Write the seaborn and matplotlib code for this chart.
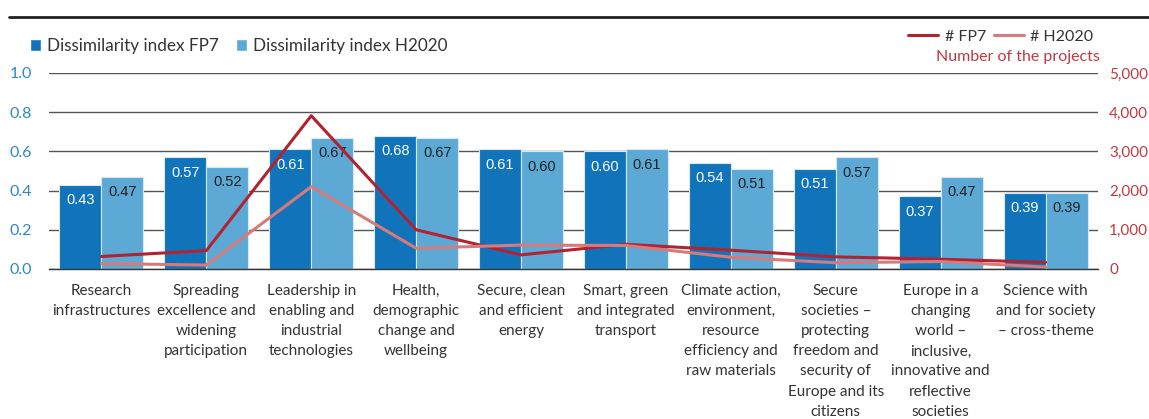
import numpy as np
import pandas as pd
import seaborn as sns
import matplotlib.pyplot as plt
from matplotlib.lines import Line2D
from matplotlib.patches import Patch
from matplotlib.ticker import FuncFormatter

# data
categories = [
    "Research\ninfrastructures",
    "Spreading\nexcellence and\nwidening\nparticipation",
    "Leadership in\nenabling and\nindustrial\ntechnologies",
    "Health,\ndemographic\nchange and\nwellbeing",
    "Secure, clean\nand efficient\nenergy",
    "Smart, green\nand integrated\ntransport",
    "Climate action,\nenvironment,\nresource\nefficiency and\nraw materials",
    "Secure\nsocieties –\nprotecting\nfreedom and\nsecurity of\nEurope and its\ncitizens",
    "Europe in a\nchanging\nworld –\ninclusive,\ninnovative and\nreflective\nsocieties",
    "Science with\nand for society\n– cross-theme",
]
fp7_index = [0.43, 0.57, 0.61, 0.68, 0.61, 0.60, 0.54, 0.51, 0.37, 0.39]
h2020_index = [0.47, 0.52, 0.67, 0.67, 0.60, 0.61, 0.51, 0.57, 0.47, 0.39]
fp7_projects = [320, 470, 3910, 1000, 360, 630, 480, 310, 250, 170]
h2020_projects = [140, 100, 2100, 530, 610, 600, 300, 160, 190, 50]

series = ["Dissimilarity index FP7", "Dissimilarity index H2020"]
bar_colors = ["#1174bb", "#5da9d5"]
line_colors = ["#b22230", "#d97a7a"]
label_colors = ["white", "#222222"]

sns.set_style("white")
plt.rcParams["font.family"] = ["Lato", "DejaVu Sans"]

df = pd.DataFrame({
    "category": categories * 2,
    "index": fp7_index + h2020_index,
    "programme": [series[0]] * len(categories) + [series[1]] * len(categories),
})

fig = plt.figure(figsize=(11.49, 4.19), dpi=100)
W, H = 1149, 419
ax = fig.add_axes([49 / W, 1 - 269 / H, (1098 - 49) / W, (269 - 73) / H])

ax.set_axisbelow(True)
ax.yaxis.grid(True, color="#555555", linewidth=1)
sns.barplot(data=df, x="category", y="index", hue="programme", palette=bar_colors,
            saturation=1, width=0.8, edgecolor="#d6e8f4", linewidth=0.8,
            legend=False, ax=ax)

for cont, col in zip(ax.containers, label_colors):
    ax.bar_label(cont, fmt="%.2f", padding=-16, color=col, fontsize=10.5,
                 family="Liberation Sans")

ax.set_ylim(0, 1.0)
ax.set_xlim(-0.5, len(categories) - 0.5)
ax.set_yticks(np.arange(0, 1.01, 0.2))
ax.yaxis.set_major_formatter(FuncFormatter(lambda v, p: f"{v:.1f}"))
ax.set_xlabel("")
ax.set_ylabel("")
ax.tick_params(axis="y", length=0, pad=12, labelsize=11.5, labelcolor="#2b88c8")
ax.tick_params(axis="x", which="major", length=0, pad=11, labelsize=11,
               labelcolor="#333333")
ax.set_xticks(np.arange(-0.5, len(categories), 1), minor=True)
ax.tick_params(axis="x", which="minor", length=6, width=1, color="#333333")
for lab in ax.get_xticklabels():
    lab.set_linespacing(1.55)
    lab.set_va("top")
for s in ["top", "right", "left"]:
    ax.spines[s].set_visible(False)
ax.spines["bottom"].set_color("#333333")
ax.spines["bottom"].set_linewidth(1)

# project counts on the right axis
ax2 = ax.twinx()
xpos = np.arange(len(categories))
sns.lineplot(x=xpos, y=fp7_projects, color=line_colors[0], linewidth=2.2, ax=ax2)
sns.lineplot(x=xpos, y=h2020_projects, color=line_colors[1], linewidth=2.2, ax=ax2)
ax2.set_ylim(0, 5000)
ax2.set_yticks(np.arange(0, 5001, 1000))
ax2.yaxis.set_major_formatter(FuncFormatter(lambda v, p: f"{v:,.0f}"))
ax2.tick_params(axis="y", length=0, pad=8, labelsize=11, labelcolor="#c0393f")
for s in ["top", "right", "left", "bottom"]:
    ax2.spines[s].set_visible(False)
ax2.grid(False)

# legends
bar_handles = [Patch(facecolor=c) for c in bar_colors]
fig.legend(bar_handles, series, loc="center left",
           bbox_to_anchor=(15 / W, 1 - 46 / H), ncol=2, frameon=False,
           handlelength=0.65, handleheight=0.65, handletextpad=0.35,
           columnspacing=1.0, fontsize=12.3, labelcolor="#333333")
line_handles = [Line2D([], [], color=c, linewidth=2.2) for c in line_colors]
fig.legend(line_handles, ["# FP7", "# H2020"], loc="center right",
           bbox_to_anchor=(1108 / W, 1 - 37 / H), ncol=2, frameon=False,
           handlelength=1.9, handletextpad=0.4, columnspacing=0.5,
           fontsize=11.5, labelcolor="#333333")
fig.text(1100 / W, 1 - 57 / H, "Number of the projects", ha="right", va="center",
         fontsize=11.5, color="#c0393f")

# cut-off title and rule at the top
fig.text(9 / W, 1 + 5 / H, "Dissimilarity and number of projects by theme",
         ha="left", va="baseline", fontsize=13, fontweight="bold", color="#333333")
fig.add_artist(Line2D([9 / W, 1], [1 - 17 / H] * 2, transform=fig.transFigure,
                      color="#222222", linewidth=2))

fig.savefig("out.png", dpi=100)
